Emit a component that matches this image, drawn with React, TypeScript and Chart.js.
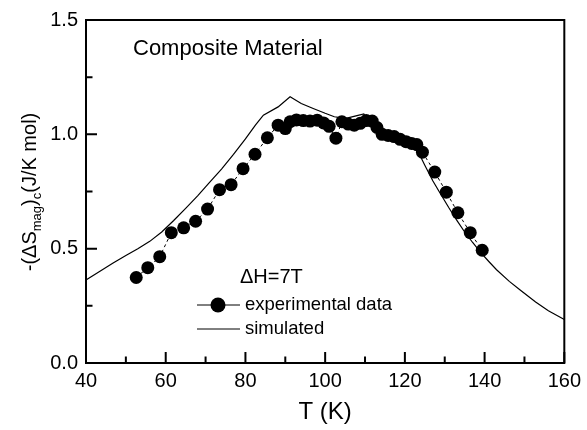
import React, { useEffect, useRef } from "react";
import { Chart, registerables } from "chart.js";
Chart.register(...registerables);

// Experimental data: temperature (K) and -(ΔS_mag)_c (J/K mol)
const expT = [52.6, 55.5, 58.5, 61.4, 64.5, 67.5, 70.5, 73.5, 76.4, 79.4, 82.4, 85.5, 88.2, 90.0, 91.2, 92.8, 94.5, 96.2, 98.0, 99.6, 101.0, 102.7, 104.2, 105.8, 107.3, 108.8, 110.3, 111.8, 113.0, 114.3, 115.8, 117.3, 118.8, 120.3, 121.7, 123.0, 124.4, 127.5, 130.4, 133.3, 136.4, 139.4];
const expV = [0.374, 0.417, 0.465, 0.570, 0.591, 0.620, 0.673, 0.758, 0.780, 0.850, 0.913, 0.985, 1.040, 1.025, 1.055, 1.063, 1.060, 1.058, 1.062, 1.050, 1.035, 0.983, 1.055, 1.045, 1.040, 1.048, 1.060, 1.058, 1.030, 1.000, 0.995, 0.990, 0.978, 0.968, 0.960, 0.955, 0.922, 0.835, 0.747, 0.657, 0.570, 0.493];

// Simulated curve
const simT = [40, 43, 46.8, 50, 53, 56, 59, 62, 65, 68, 71, 74, 77, 80, 82.5, 84.5, 88.2, 91.2, 94.0, 97.0, 100.0, 102.3, 105.2, 108.0, 109.7, 111.0, 113.0, 116.0, 120.0, 123.3, 125.0, 127.0, 129.0, 131.0, 133.0, 135.0, 137.0, 139.0, 141.0, 143.0, 146.2, 149.0, 152.8, 156.0, 160];
const simV = [0.363, 0.396, 0.437, 0.470, 0.500, 0.532, 0.573, 0.623, 0.676, 0.731, 0.790, 0.848, 0.912, 0.980, 1.040, 1.084, 1.120, 1.164, 1.135, 1.113, 1.092, 1.077, 1.070, 1.082, 1.089, 1.050, 1.020, 0.990, 0.960, 0.925, 0.865, 0.797, 0.738, 0.680, 0.625, 0.573, 0.527, 0.484, 0.445, 0.408, 0.357, 0.318, 0.267, 0.228, 0.190];

const xTicks = [40, 60, 80, 100, 120, 140, 160];
const yTicks = [0, 0.5, 1.0, 1.5];

const titleText = "Composite Material";
const fieldText = "ΔH=7T";
const legendLabels = ["experimental data", "simulated"];
const xTitle = "T (K)";

const FONT = '"Liberation Sans", Arial, Helvetica, sans-serif';

export default function App() {
  const ref = useRef<HTMLCanvasElement>(null);

  useEffect(() => {
    const canvas = ref.current;
    if (!canvas) return;

    const overlay = {
      id: "overlay",
      afterDraw(chart: any) {
        const ctx: CanvasRenderingContext2D = chart.ctx;
        const { left, right, top, bottom } = chart.chartArea;
        const xs = chart.scales.x;
        const ys = chart.scales.y;
        ctx.save();
        ctx.strokeStyle = "#000";
        ctx.fillStyle = "#000";
        ctx.lineWidth = 2;
        ctx.lineCap = "butt";
        // frame
        ctx.strokeRect(left, top, right - left, bottom - top);
        // ticks (inward)
        const majorLen = 11;
        const minorLen = 6.5;
        ctx.beginPath();
        xTicks.forEach((v, i) => {
          const px = xs.getPixelForValue(v);
          ctx.moveTo(px, bottom);
          ctx.lineTo(px, bottom - majorLen);
          if (i < xTicks.length - 1) {
            const m = xs.getPixelForValue((v + xTicks[i + 1]) / 2);
            ctx.moveTo(m, bottom);
            ctx.lineTo(m, bottom - minorLen);
          }
        });
        yTicks.forEach((v, i) => {
          const py = ys.getPixelForValue(v);
          ctx.moveTo(left, py);
          ctx.lineTo(left + majorLen, py);
          if (i < yTicks.length - 1) {
            const m = ys.getPixelForValue((v + yTicks[i + 1]) / 2);
            ctx.moveTo(left, m);
            ctx.lineTo(left + minorLen, m);
          }
        });
        ctx.stroke();

        // annotation texts
        ctx.textAlign = "left";
        ctx.textBaseline = "alphabetic";
        ctx.font = `22px ${FONT}`;
        ctx.fillText(titleText, 133, 55);
        ctx.font = `20px ${FONT}`;
        ctx.fillText(fieldText, 240, 283);

        // legend
        ctx.lineWidth = 1;
        const lx0 = 197, lx1 = 240, ly1 = 305, ly2 = 329;
        ctx.beginPath();
        ctx.moveTo(lx0, ly1);
        ctx.lineTo(lx1, ly1);
        ctx.moveTo(lx0, ly2);
        ctx.lineTo(lx1, ly2);
        ctx.stroke();
        ctx.beginPath();
        ctx.arc(218, ly1, 7.5, 0, Math.PI * 2);
        ctx.fill();
        ctx.font = `18.5px ${FONT}`;
        ctx.textBaseline = "middle";
        ctx.fillText(legendLabels[0], 245, ly1);
        ctx.fillText(legendLabels[1], 245, ly2);

        // x title
        ctx.font = `24px ${FONT}`;
        ctx.textAlign = "center";
        ctx.textBaseline = "alphabetic";
        ctx.fillText(xTitle, (left + right) / 2, 419);

        // y title (rotated, with subscripts)
        const parts = [
          { t: "-(ΔS", size: 20, dy: 0 },
          { t: "mag", size: 13, dy: 5 },
          { t: ")", size: 20, dy: 0 },
          { t: "c", size: 13, dy: 5 },
          { t: "(J/K mol)", size: 20, dy: 0 },
        ];
        let total = 0;
        const widths = parts.map((p) => {
          ctx.font = `${p.size}px ${FONT}`;
          const w = ctx.measureText(p.t).width;
          total += w;
          return w;
        });
        ctx.translate(36, 192);
        ctx.rotate(-Math.PI / 2);
        ctx.textAlign = "left";
        let cx = -total / 2;
        parts.forEach((p, i) => {
          ctx.font = `${p.size}px ${FONT}`;
          ctx.fillText(p.t, cx, p.dy);
          cx += widths[i];
        });
        ctx.restore();
      },
    };

    const chart = new Chart(canvas, {
      type: "scatter",
      data: {
        datasets: [
          {
            label: legendLabels[0],
            data: expT.map((t, i) => ({ x: t, y: expV[i] })),
            showLine: true,
            borderColor: "#000",
            borderWidth: 1,
            borderDash: [3, 3],
            pointRadius: 6.5,
            pointBackgroundColor: "#000",
            pointBorderColor: "#000",
            pointBorderWidth: 0,
            order: 0,
          },
          {
            label: legendLabels[1],
            data: simT.map((t, i) => ({ x: t, y: simV[i] })),
            showLine: true,
            borderColor: "#000",
            borderWidth: 1.2,
            pointRadius: 0,
            tension: 0,
            order: 1,
          },
        ],
      },
      options: {
        responsive: false,
        animation: false,
        events: [],
        layout: { padding: { left: 0, right: 18, top: 18, bottom: 0 } },
        plugins: { legend: { display: false }, tooltip: { enabled: false } },
        scales: {
          x: {
            type: "linear",
            min: 40,
            max: 160,
            afterBuildTicks: (s: any) => {
              s.ticks = xTicks.map((v) => ({ value: v }));
            },
            afterFit: (s: any) => {
              s.height = 67;
            },
            ticks: {
              color: "#000",
              font: { family: FONT, size: 20 },
              padding: 6,
              maxRotation: 0,
              autoSkip: false,
              callback: (v: any) => String(v),
            },
            grid: { display: false, drawTicks: false },
            border: { display: false },
          },
          y: {
            type: "linear",
            min: 0,
            max: 1.5,
            afterBuildTicks: (s: any) => {
              s.ticks = yTicks.map((v) => ({ value: v }));
            },
            afterFit: (s: any) => {
              s.width = 86;
            },
            ticks: {
              color: "#000",
              font: { family: FONT, size: 20 },
              padding: 8,
              autoSkip: false,
              callback: (v: any) => Number(v).toFixed(1),
            },
            grid: { display: false, drawTicks: false },
            border: { display: false },
          },
        },
      },
      plugins: [overlay],
    });

    return () => chart.destroy();
  }, []);

  return (
    <div style={{ position: "fixed", left: 0, top: 0, width: 587, height: 430, background: "#fff" }}>
      <canvas ref={ref} width={587} height={430} style={{ display: "block" }} />
    </div>
  );
}
